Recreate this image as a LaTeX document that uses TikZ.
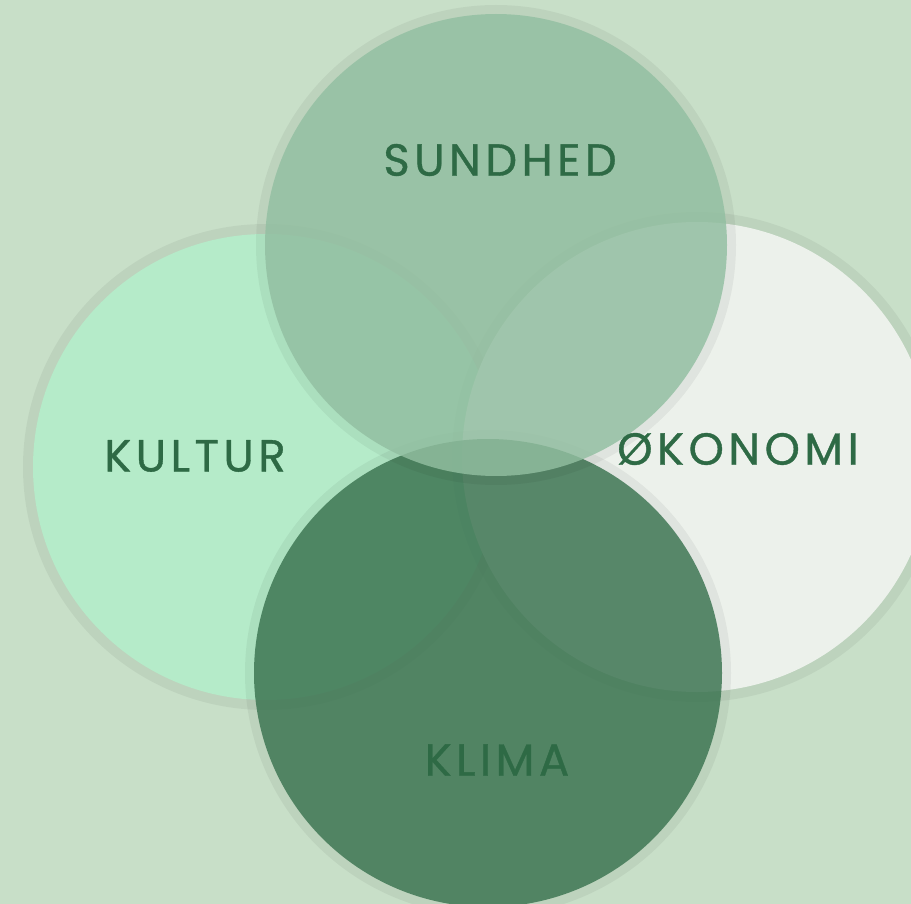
\documentclass[tikz,border=0pt]{standalone}
\usepackage{fontspec}
\newfontfamily\lblfont[LetterSpace=10,FakeBold=0.8]{Poppins}
\definecolor{bgc}{HTML}{C8DFC8}
\definecolor{kultc}{HTML}{B5EBC9}
\definecolor{okoc}{HTML}{ECF1EB}
\definecolor{sundc}{HTML}{92BFA1}
\definecolor{klimc}{HTML}{3A7350}
\definecolor{txtc}{HTML}{2E6A45}
\begin{document}
\begin{tikzpicture}[x=1pt,y=-1pt,line join=round,
	halo/.style={fill=black,fill opacity=0.05},
	lbl/.style={text=txtc,font=\lblfont\fontsize{45}{45}\selectfont}]
	\fill[bgc] (0,0) rectangle (911,904);
	\useasboundingbox (0,0) rectangle (911,904);
	\clip (0,0) rectangle (911,904);
	\coordinate (kult) at (266,467);
	\coordinate (oko) at (697,457);
	\coordinate (klim) at (488,673);
	\coordinate (sund) at (496,245);
	% circles, back to front
	\fill[halo] (kult) circle(243);
	\fill[kultc] (kult) circle(233);
	\fill[halo] (oko) circle(245);
	\fill[okoc] (oko) circle(235);
	\fill[halo] (klim) circle(243);
	\fill[klimc,fill opacity=0.82] (klim) circle(234);
	\fill[halo] (sund) circle(240);
	\fill[sundc,fill opacity=0.82] (sund) circle(231);
	\node[lbl] (sundhed) at (500,160) {SUNDHED};
	\node[lbl] (kultur) at (195,456) {KULTUR};
	\node[lbl] (okonomi) at (738,449) {ØKONOMI};
	\node[lbl] (klima) at (497,760) {KLIMA};
\end{tikzpicture}
\end{document}
